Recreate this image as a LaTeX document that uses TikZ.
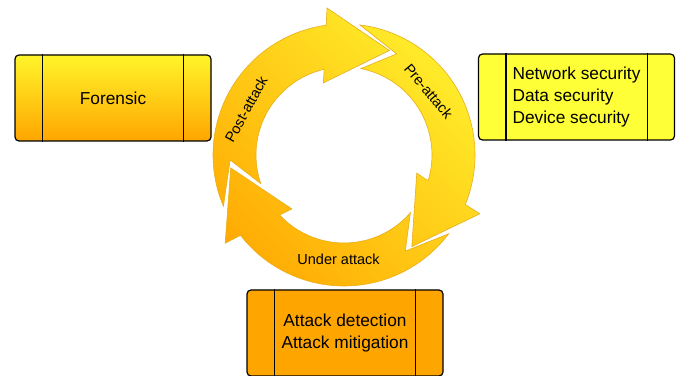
\documentclass[tikz,border=0pt]{standalone}
\usepackage{fontspec}
\setmainfont{Liberation Sans}
\definecolor{ringorange}{HTML}{FFA600}
\definecolor{ringyellow}{HTML}{FFF22E}
\definecolor{ringedge}{HTML}{E8AE1A}
\definecolor{boxyellow}{HTML}{FFF52A}
\definecolor{boxorange}{HTML}{FFA500}
\definecolor{brightyellow}{HTML}{FFFF38}
\newcommand\cyclearrow[1]{%
  ({203+#1}:131pt) arc[start angle={203+#1}, end angle={97.8+#1}, radius=131pt]
  -- ({96.6+#1}:148pt) -- ({66.5+#1}:114pt) -- ({106+#1}:75pt) -- ({103+#1}:88pt)
  arc[start angle={103+#1}, end angle={199+#1}, radius=88pt]
  -- ({182.5+#1}:114pt) -- cycle}
\begin{document}
\begin{tikzpicture}[x=1pt,y=1pt,
  box/.style={draw=black, line width=1.2pt, rounded corners=4pt,
    minimum width=196pt, minimum height=86pt, inner sep=0pt,
    font=\fontsize{17.3}{22}\selectfont, align=center},
  ring label/.style={font=\fontsize{14.5}{17}\selectfont, inner sep=0pt},
  divider/.style={line width=1.2pt, draw=black}]
\useasboundingbox (0,0) rectangle (680,375);
\clip (0,0) rectangle (680,375);

% cycle of three arrows
\begin{scope}[shift={(344,220)}]
  \begin{scope}
    \clip \cyclearrow{0} \cyclearrow{-120} \cyclearrow{-240};
    \shade[bottom color=ringorange, top color=ringyellow, shading angle=-45]
      (-160,-160) rectangle (160,160);
  \end{scope}
  \draw[ringedge, line width=0.6pt] \cyclearrow{0} \cyclearrow{-120} \cyclearrow{-240};
  \node[ring label, rotate=61] (post) at (155:108) {Post-attack};
  \node[ring label, rotate=-50] (pre) at (37:106) {Pre-attack};
  \node[ring label] (under) at (-93:104) {Under attack};
\end{scope}

% boxes
\node[box, top color=boxyellow, bottom color=boxorange] (forensic) at (113,277) {Forensic};
\node[box, fill=brightyellow, align=left] (prevention) at (576.5,278)
  {Network security\\Data security\\Device security};
\node[box, fill=boxorange] (response) at (345,42) {Attack detection\\Attack mitigation};

\foreach \b in {forensic, prevention, response} {
  \draw[divider] ([xshift=28pt]\b.north west) -- ([xshift=28pt]\b.south west);
  \draw[divider] ([xshift=-28pt]\b.north east) -- ([xshift=-28pt]\b.south east);
}
\end{tikzpicture}
\end{document}
